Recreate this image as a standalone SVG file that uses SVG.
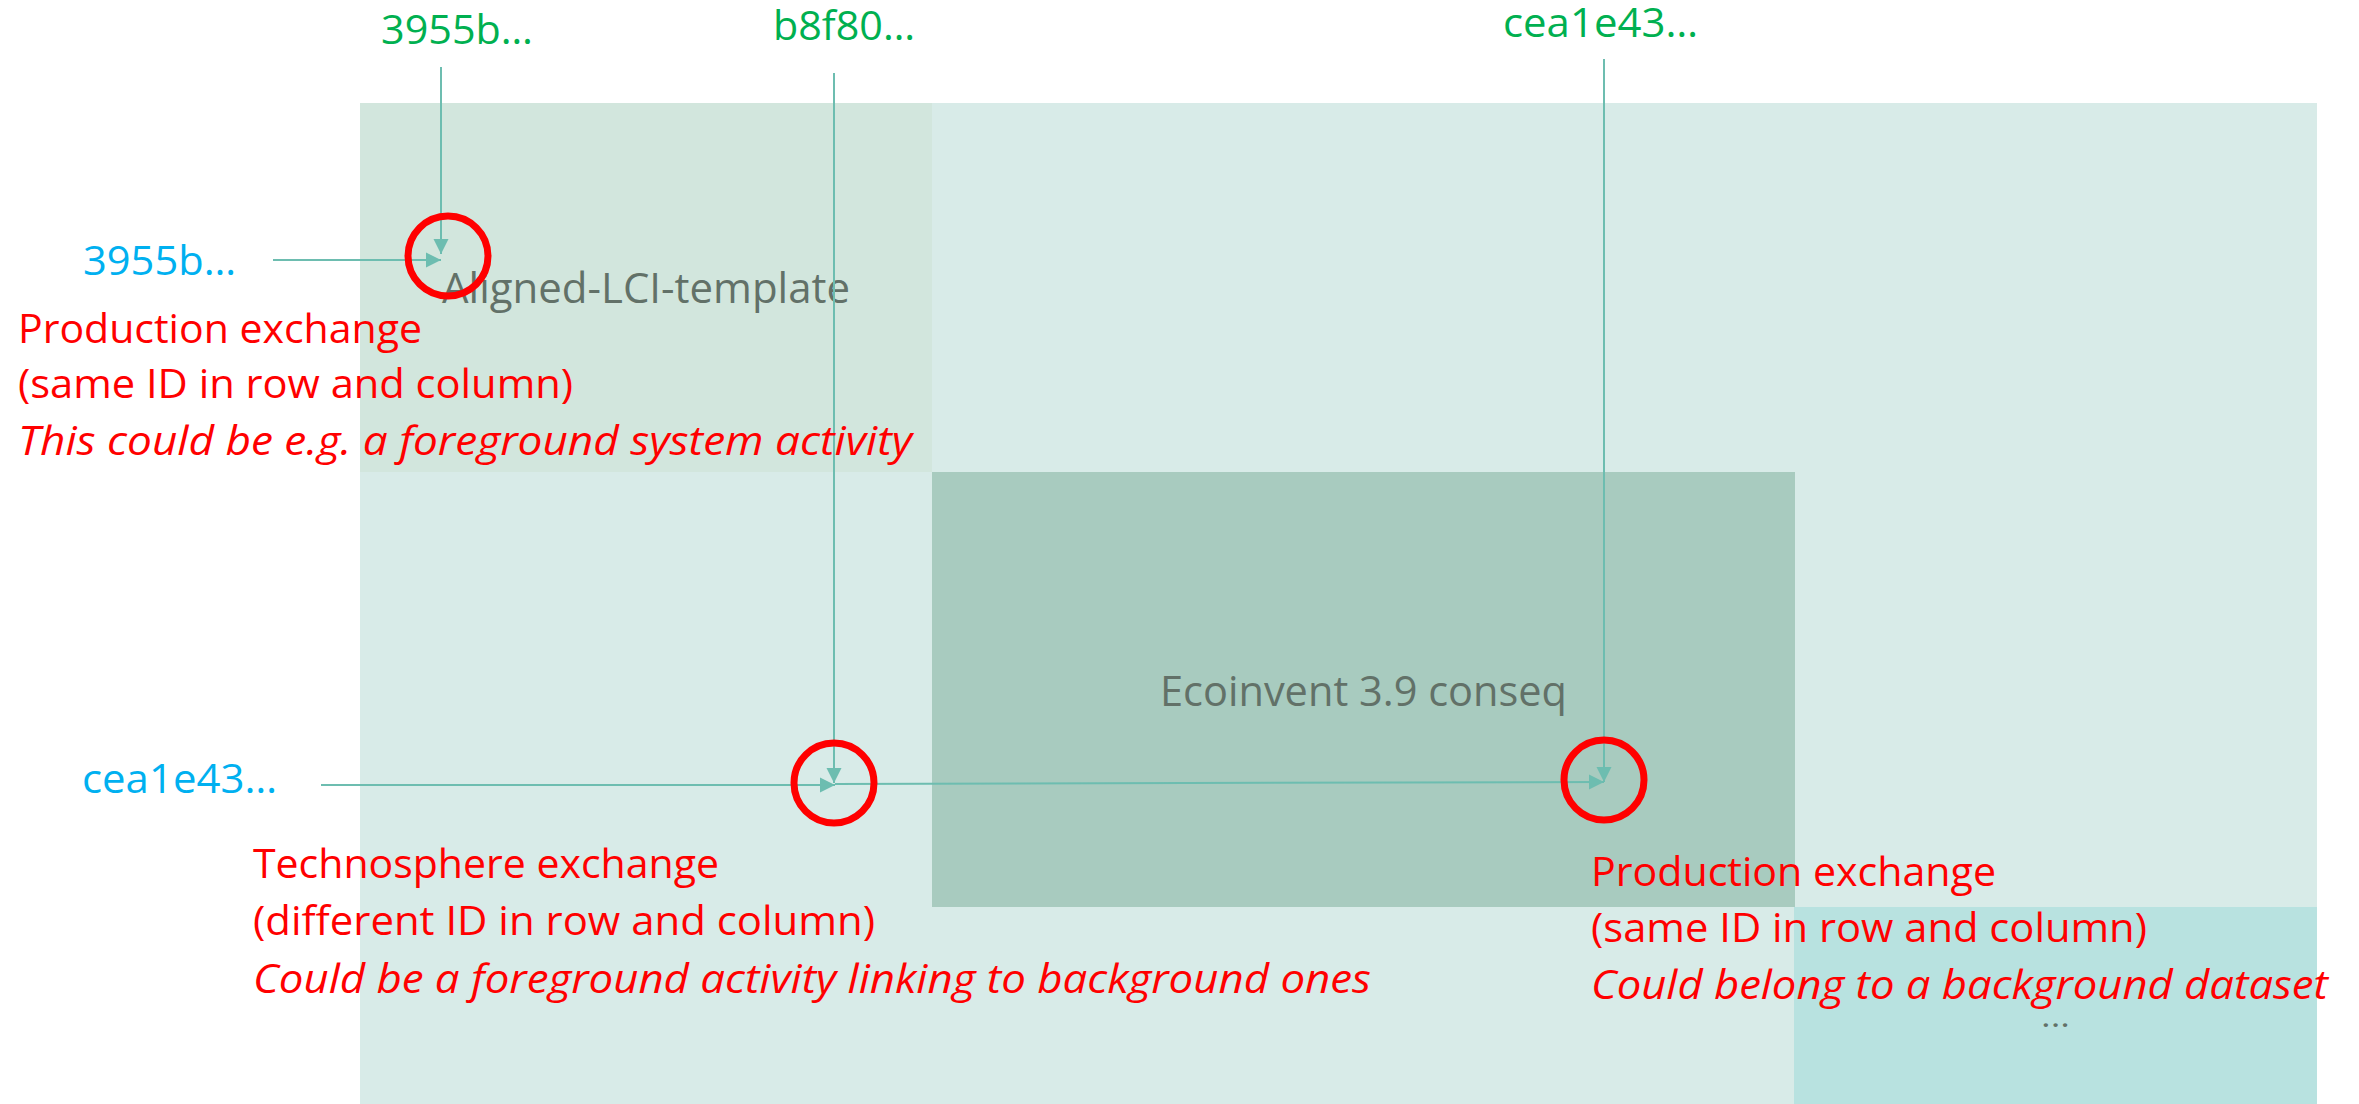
<svg xmlns="http://www.w3.org/2000/svg" width="2359" height="1104" viewBox="0 0 2359 1104">
<defs>
<style>
.t{font-family:"Open Sans","Liberation Sans",sans-serif;}
.grn{fill:#00b050;font-size:40px;}
.blu{fill:#00b0f0;font-size:40px;}
.red{fill:#ff0000;font-size:40px;}
.it{font-style:italic;}
.gry{fill:#627168;font-size:42px;}
.conn{stroke:#6dbdb0;stroke-width:2;fill:none;marker-end:url(#ah);}
.ring{fill:none;stroke:#ff0000;stroke-width:7;}
</style>
<marker id="ah" markerUnits="userSpaceOnUse" markerWidth="16" markerHeight="16" viewBox="0 0 16 16" refX="15" refY="8" orient="auto">
<path d="M0,0.5 L15,8 L0,15.5 z" fill="#6dbdb0"/>
</marker>
</defs>
<rect width="2359" height="1104" fill="#ffffff"/>
<g id="matrix">
<rect x="360" y="103" width="1957" height="1001" fill="#d8ebe8"/>
</g>
<g id="aligned-lci-template">
<rect x="360" y="103" width="572" height="369" fill="#d2e6dd"/>
<text class="t gry" x="442" y="303" textLength="408" lengthAdjust="spacingAndGlyphs">Aligned-LCI-template</text>
</g>
<g id="ecoinvent">
<rect x="932" y="472" width="863" height="435" fill="#a8cbbf"/>
<text class="t gry" x="1160" y="706" textLength="407" lengthAdjust="spacingAndGlyphs">Ecoinvent 3.9 conseq</text>
</g>
<g id="other-datasets">
<rect x="1794" y="907" width="523" height="197" fill="#b8e2e0"/>
<text class="t" x="2041" y="1027" fill="#627168" font-size="30" textLength="29" lengthAdjust="spacingAndGlyphs">...</text>
</g>
<g id="connectors">
<line class="conn" x1="441" y1="67" x2="441" y2="254"/>
<line class="conn" x1="273" y1="260" x2="441" y2="260"/>
<line class="conn" x1="834" y1="73" x2="834" y2="783"/>
<line class="conn" x1="321" y1="785" x2="835" y2="785"/>
<line class="conn" x1="835" y1="784" x2="1604" y2="782"/>
<line class="conn" x1="1604" y1="59" x2="1604" y2="782"/>
</g>
<g id="column-labels">
<text class="t grn" x="381" y="44" textLength="152" lengthAdjust="spacingAndGlyphs">3955b…</text>
<text class="t grn" x="773" y="40" textLength="142" lengthAdjust="spacingAndGlyphs">b8f80…</text>
<text class="t grn" x="1503" y="37" textLength="195" lengthAdjust="spacingAndGlyphs">cea1e43…</text>
</g>
<g id="row-labels">
<text class="t blu" x="83" y="275" textLength="153" lengthAdjust="spacingAndGlyphs">3955b…</text>
<text class="t blu" x="82" y="793" textLength="195" lengthAdjust="spacingAndGlyphs">cea1e43…</text>
</g>
<g id="exchange-1">
<circle class="ring" cx="448" cy="256" r="40"/>
<text class="t red" x="18" y="343" textLength="404" lengthAdjust="spacingAndGlyphs">Production exchange</text>
<text class="t red" x="18" y="398" textLength="555" lengthAdjust="spacingAndGlyphs">(same ID in row and column)</text>
<text class="t red it" x="18" y="455" textLength="894" lengthAdjust="spacingAndGlyphs">This could be e.g. a foreground system activity</text>
</g>
<g id="exchange-2">
<circle class="ring" cx="834" cy="783" r="40"/>
<text class="t red" x="253" y="878" textLength="466" lengthAdjust="spacingAndGlyphs">Technosphere exchange</text>
<text class="t red" x="253" y="935" textLength="622" lengthAdjust="spacingAndGlyphs">(different ID in row and column)</text>
<text class="t red it" x="253" y="993" textLength="1118" lengthAdjust="spacingAndGlyphs">Could be a foreground activity linking to background ones</text>
</g>
<g id="exchange-3">
<circle class="ring" cx="1604" cy="780" r="40"/>
<text class="t red" x="1591" y="886" textLength="405" lengthAdjust="spacingAndGlyphs">Production exchange</text>
<text class="t red" x="1591" y="942" textLength="556" lengthAdjust="spacingAndGlyphs">(same ID in row and column)</text>
<text class="t red it" x="1591" y="999" textLength="737" lengthAdjust="spacingAndGlyphs">Could belong to a background dataset</text>
</g>
</svg>
